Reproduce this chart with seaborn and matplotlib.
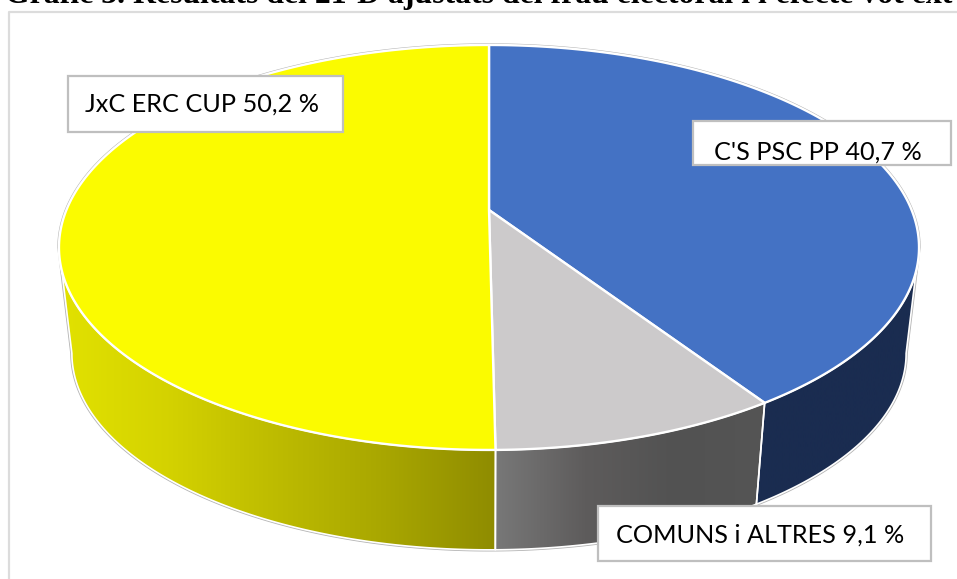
import numpy as np
import matplotlib
matplotlib.use("Agg")
import matplotlib.pyplot as plt
from matplotlib.patches import Polygon, Rectangle
import seaborn as sns

categories = ["C'S PSC PP", "COMUNS i ALTRES", "JxC ERC CUP"]
values = [40.7, 9.1, 50.2]
value_labels = ["40,7 %", "9,1 %", "50,2 %"]
title = "Gràfic 3. Resultats del 21-D ajustats del frau electoral i l'efecte vot ext"

top_colors = ["#4472C4", "#CCCACB", "#FBFB00"]
wall_stops = [["#1A2C50", "#1A2C50"],
              ["#787878", "#5E5C5C", "#525252", "#555555"],
              ["#E2E200", "#D4D200", "#BDBB00", "#A8A600", "#8F8C00"]]

sns.set_theme(style="white")
plt.rcParams["font.family"] = ["Lato", "DejaVu Sans"]

W, H = 957, 579
fig = plt.figure(figsize=(W / 100, H / 100), dpi=100, facecolor="white")
ax = fig.add_axes([0, 0, 1, 1])

# perspective of the tilted disc, in pixels
CX, CY, AX, AY, K = 489.0, 210.0, 422.6, 156.7, 0.185
VPY, SHRINK = 3780.0, 0.97


def top_edge(theta):
    """Clockwise angle from 12 o'clock to a point on the upper rim."""
    t = np.radians(theta)
    u, v = np.sin(t), -np.cos(t)
    d = 1 - K * v
    return CX + AX * u / d, (CY + AY * v) / d


def bottom_edge(theta):
    x, y = top_edge(theta)
    return CX + (x - CX) * SHRINK, VPY - (VPY - y) * SHRINK


def arc(fn, a, b, n=240):
    x, y = fn(np.linspace(a, b, n))
    return np.column_stack([x, y])


edges = np.concatenate([[0], np.cumsum(values)]) / np.sum(values) * 360
vis_r = np.degrees(np.arccos(-K))
vis_l = 360 - vis_r

# silhouette
sil = np.vstack([arc(top_edge, vis_l, 360), arc(top_edge, 0, vis_r),
                 arc(bottom_edge, vis_r, vis_l)])
ax.add_patch(Polygon(sil, closed=True, fc="white", ec="#B4B4B4", lw=2.4, zorder=1))

# walls
for i in range(3):
    a, b = max(edges[i], vis_r), min(edges[i + 1], vis_l)
    poly = np.vstack([arc(top_edge, a, b), arc(bottom_edge, b, a)])
    patch = Polygon(poly, closed=True, fc="none", ec="none")
    ax.add_patch(patch)
    grad = np.array(sns.blend_palette(wall_stops[i], n_colors=256))[None, :, :3]
    im = ax.imshow(grad, extent=(poly[:, 0].min(), poly[:, 0].max(), H, 0),
                   aspect="auto", zorder=2, interpolation="bilinear")
    im.set_clip_path(patch)
    ax.add_patch(Polygon(poly, closed=True, fc="none", ec="white", lw=1.2,
                         joinstyle="round", zorder=3))

# top face
centre = np.array([[CX, CY]])
for i in range(3):
    poly = np.vstack([centre, arc(top_edge, edges[i], edges[i + 1])])
    ax.add_patch(Polygon(poly, closed=True, fc=top_colors[i], ec="white", lw=1.7,
                         joinstyle="round", zorder=4))

# chart frame, running off the picture on the right and below
ax.plot([8.5, 8.5, W + 5], [H + 5, 11.5, 11.5], color="#DCDCDC", lw=1.6, zorder=0)

# label boxes: x0, y0, x1, y1, text x, baseline y
boxes = [(693, 121, 951, 165, 714, 160),
         (598, 506, 931, 561, 616, 542.7),
         (67.5, 75.5, 343, 132, 85, 111.7)]
for (x0, y0, x1, y1, tx, ty), c, v in zip(boxes, categories, value_labels):
    ax.add_patch(Rectangle((x0, y0), x1 - x0, y1 - y0, fc="white", ec="#BFBFBF",
                           lw=1.6, zorder=6))
    ax.text(tx, ty, f"{c} {v}", fontsize=18.2, color="black", ha="left",
            va="baseline", zorder=7)

ax.text(5, 2.5, title, fontsize=22.9, fontweight="bold", family=["Liberation Serif"],
        color="black", ha="left", va="baseline", clip_on=False, zorder=8)

ax.set_xlim(0, W)
ax.set_ylim(H, 0)
ax.axis("off")
fig.savefig("out.png", dpi=100, facecolor="white")
